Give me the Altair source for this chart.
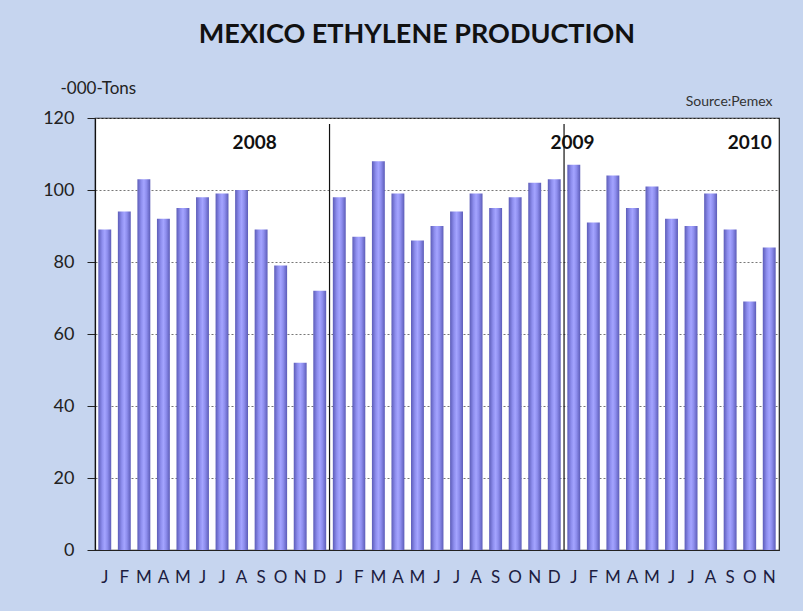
import altair as alt
import pandas as pd

months = ["J", "F", "M", "A", "M", "J", "J", "A", "S", "O", "N", "D"]
years = ["2008", "2009", "2010"]
values_2008 = [89, 94, 103, 92, 95, 98, 99, 100, 89, 79, 52, 72]
values_2009 = [98, 87, 108, 99, 86, 90, 94, 99, 95, 98, 102, 103]
values_2010 = [107, 91, 104, 95, 101, 92, 90, 99, 89, 69, 84]
y_ticks = [0, 20, 40, 60, 80, 100, 120]

rows = []
for yr, vals in zip(years, [values_2008, values_2009, values_2010]):
    for i, v in enumerate(vals):
        rows.append({"key": f"{yr}-{i:02d}-{months[i]}", "year": yr, "value": v})
df = pd.DataFrame(rows)
order = list(df["key"])

# separators at start of each new year (first month of 2009, 2010)
sep_df = pd.DataFrame({"key": [k for k in order if k.split("-")[1] == "00" and not k.startswith(years[0])]})

# year labels anchored to month bands: (key, band position)
label_anchor = [(order[8], 0.0), (order[24], 0.4), (order[33], 0.5)]
label_level = 113

FONT = "Lato"

x_enc = alt.X("key:N", sort=order,
              scale=alt.Scale(paddingInner=0.34, paddingOuter=0.17),
              axis=alt.Axis(title=None, labelExpr="split(datum.value, '-')[2]",
                            labelAngle=0, labelFontSize=17, labelColor="#1c1c40",
                            labelFont=FONT, labelPadding=19, ticks=False,
                            domainColor="#222", domainWidth=1.2))
y_scale = alt.Scale(domain=[0, 120], nice=False)

bars = alt.Chart(df).mark_bar(
    color=alt.Gradient(
        gradient="linear", x1=0, x2=1, y1=0, y2=0,
        stops=[alt.GradientStop(color="#5c5cb8", offset=0),
               alt.GradientStop(color="#8e8eee", offset=0.3),
               alt.GradientStop(color="#a4a4ff", offset=0.5),
               alt.GradientStop(color="#8e8eee", offset=0.7),
               alt.GradientStop(color="#5c5cb8", offset=1)])
).encode(
    x=x_enc,
    y=alt.Y("value:Q", scale=y_scale,
            axis=alt.Axis(values=y_ticks, title="-000-Tons", titleAngle=0,
                          titleX=-35, titleY=-30, titleAlign="left",
                          titleBaseline="middle", titleFontWeight="normal",
                          titleFontSize=17, titleColor="#222", titleFont=FONT,
                          labelFontSize=18, labelColor="#222", labelFont=FONT,
                          labelPadding=13, tickSize=8, tickColor="#222",
                          domainColor="#111", domainWidth=1.2,
                          grid=True, gridDash=[2, 2], gridColor="#777",
                          gridWidth=1))
)

seps = alt.Chart(sep_df).mark_rule(color="#111", strokeWidth=1.2, xOffset=-3.3,
                                    y2Offset=6).encode(
    x=alt.X("key:N", sort=order, bandPosition=0),
    y=alt.Y(datum=0, scale=y_scale, axis=None),
    y2=alt.datum(120),
)

label_layers = []
for idx, ((key, bp), yr) in enumerate(zip(label_anchor, years)):
    ldf = pd.DataFrame({"key": [key], "label": [yr], "value": [label_level]})
    if idx == 0:
        yax = alt.Axis(orient="right", title="Source:Pemex", titleAngle=0,
                       titleX=-7, titleY=-17, titleAlign="right",
                       titleBaseline="middle", titleFontWeight="normal",
                       titleFontSize=14, titleColor="#333", titleFont=FONT,
                       labels=False, ticks=False, domain=False, grid=False)
    else:
        yax = None
    label_layers.append(
        alt.Chart(ldf).mark_text(fontSize=19, fontWeight="bold", font=FONT,
                                 color="#111", baseline="middle").encode(
            x=alt.X("key:N", sort=order, bandPosition=bp),
            y=alt.Y("value:Q", scale=y_scale, axis=yax),
            text="label:N",
        )
    )

chart = alt.layer(bars, seps, *label_layers).resolve_axis(y="independent").properties(
    width=684, height=432,
    autosize=alt.AutoSizeParams(type="none"),
    padding={"left": 95, "top": 118, "right": 24, "bottom": 61},
    background="#c6d5ef",
    title=alt.TitleParams("MEXICO ETHYLENE PRODUCTION", fontSize=27,
                          fontWeight="bold", font=FONT, color="#111",
                          anchor="middle", offset=30, dx=-20),
).configure_view(stroke="#222", strokeWidth=1.2, fill="white")

chart.save("out.html", embed_options={"renderer": "svg", "actions": False})
